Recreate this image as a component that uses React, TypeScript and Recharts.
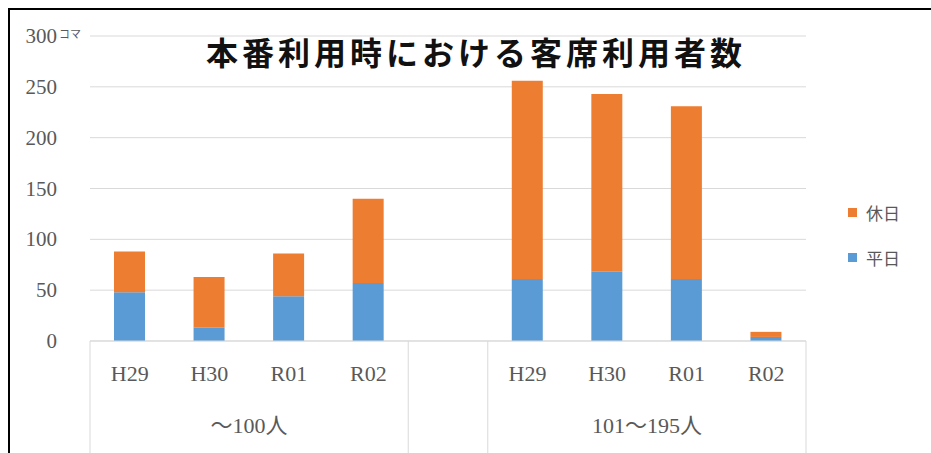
import { BarChart, Bar, XAxis, YAxis, CartesianGrid } from "recharts";

const categories = ["H29", "H30", "R01", "R02", "", "H29", "H30", "R01", "R02"];
const groupNames = ["～100人", "101～195人"];
const groupOf = [0, 0, 0, 0, -1, 1, 1, 1, 1];
const weekday = [48, 13, 44, 57, null, 61, 68, 61, 4];
const holiday = [40, 50, 42, 83, null, 195, 175, 170, 5];
const yTicks = [0, 50, 100, 150, 200, 250, 300];

const data = categories.map((c, i) => ({ cat: c, idx: i, weekday: weekday[i], holiday: holiday[i] }));

const W = 921;
const H = 443;
const M = { top: 26, right: 125, left: 20, bottom: 0 };
const Y_W = 60;
const BAND = (W - M.left - M.right - Y_W) / categories.length;

const SERIF = "'Liberation Serif', 'Noto Sans CJK JP', serif";
const GREY = "#595959";
const LINE = "#d9d9d9";
const BLUE = "#5b9bd5";
const ORANGE = "#ed7d31";

function YTick({ x, y, payload }: any) {
  const tx = x - 31;
  return (
    <g>
      <text x={tx} y={y} dy={7} textAnchor="end" fontFamily={SERIF} fontSize={21} fill={GREY}>
        {payload.value}
      </text>
      {payload.value === 300 && (
        <text x={tx + 2} y={y} dy={2} textAnchor="start" fontFamily="'Noto Sans CJK JP', sans-serif" fontSize={11} fill={GREY}>
          コマ
        </text>
      )}
    </g>
  );
}

function XTick({ x, y, payload, index }: any) {
  const i = payload?.index ?? index;
  const g = groupOf[i];
  const bottom = H - y + 20;
  return (
    <g>
      {payload.value && (
        <text x={x} y={y + 40} textAnchor="middle" fontFamily={SERIF} fontSize={22} fill={GREY}>
          {payload.value}
        </text>
      )}
      {(i === 0 || i === 5) && <line x1={x - BAND / 2} x2={x - BAND / 2} y1={y} y2={y + bottom} stroke={LINE} />}
      {(i === 3 || i === 8) && <line x1={x + BAND / 2} x2={x + BAND / 2} y1={y} y2={y + bottom} stroke={LINE} />}
      {(i === 1 || i === 6) && g >= 0 && (
        <text x={x + BAND / 2} y={y + 92} textAnchor="middle" fontFamily={SERIF} fontSize={22} fill={GREY}>
          {groupNames[g]}
        </text>
      )}
    </g>
  );
}

function LegendBox() {
  const items = [
    { name: "休日", color: ORANGE },
    { name: "平日", color: BLUE },
  ];
  return (
    <div style={{ position: "absolute", left: 838, top: 180, fontFamily: SERIF, fontSize: 17, color: GREY }}>
      {items.map((it) => (
        <div key={it.name} style={{ display: "flex", alignItems: "center", height: 45 }}>
          <span style={{ width: 9, height: 9, background: it.color, marginRight: 9, display: "inline-block" }} />
          <span>{it.name}</span>
        </div>
      ))}
    </div>
  );
}

export default function App() {
  return (
    <div
      style={{
        position: "fixed",
        left: 8,
        top: 8,
        width: 923,
        height: 445,
        borderTop: "2px solid #000",
        borderLeft: "2px solid #000",
        background: "#fff",
        overflow: "hidden",
      }}
    >
      <div
        style={{
          position: "absolute",
          left: 163,
          top: 23,
          width: 606,
          textAlign: "center",
          fontFamily: "'Noto Sans CJK JP', sans-serif",
          fontWeight: 700,
          fontSize: 32,
          lineHeight: "36px",
          letterSpacing: 4,
          color: "#111",
          zIndex: 2,
        }}
      >
        本番利用時における客席利用者数
      </div>
      <LegendBox />
      <BarChart width={W} height={H} data={data} margin={M} barSize={31}>
        <CartesianGrid horizontal vertical={false} stroke={LINE} />
        <XAxis
          dataKey="cat"
          height={H - 331}
          axisLine={{ stroke: LINE }}
          tickLine={false}
          tickSize={0}
          tickMargin={0}
          interval={0}
          tick={<XTick />}
        />
        <YAxis
          width={Y_W}
          domain={[0, 300]}
          ticks={yTicks}
          axisLine={false}
          tickLine={false}
          tickSize={0}
          tick={<YTick />}
        />
        <Bar dataKey="weekday" name="平日" stackId="a" fill={BLUE} isAnimationActive={false} />
        <Bar dataKey="holiday" name="休日" stackId="a" fill={ORANGE} isAnimationActive={false} />
      </BarChart>
    </div>
  );
}
